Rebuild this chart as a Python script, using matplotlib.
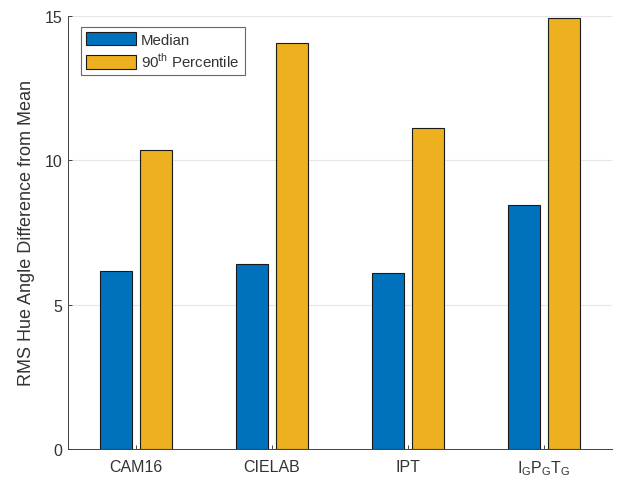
import numpy as np
import matplotlib.pyplot as plt

plt.rcParams['font.family'] = ['Liberation Sans', 'DejaVu Sans']

# data
categories = ['CAM16', 'CIELAB', 'IPT', r'I$_\mathregular{G}$P$_\mathregular{G}$T$_\mathregular{G}$']
median = [6.17, 6.42, 6.1, 8.45]
pct90 = [10.35, 14.05, 11.12, 14.93]

blue = '#0072BD'
yellow = '#EDB120'


def main():
    fig = plt.figure(figsize=(6.27, 4.85), dpi=100)
    ax = fig.add_axes([0.1085, 0.0722, 0.8676, 0.8928])

    x = np.arange(1, len(categories) + 1)
    w = 0.235
    ax.bar(x - 0.145, median, w, color=blue, edgecolor='#1a1a1a', linewidth=0.8,
           label='Median', zorder=3)
    ax.bar(x + 0.145, pct90, w, color=yellow, edgecolor='#1a1a1a', linewidth=0.8,
           label=r'90$^\mathregular{th}$ Percentile', zorder=3)

    ax.set_xlim(0.5, 4.5)
    ax.set_ylim(0, 15)
    ax.set_xticks(x)
    ax.set_xticklabels(categories)
    ax.set_yticks([0, 5, 10, 15])
    ax.tick_params(direction='in', length=3, colors='#262626', labelsize=11.5,
                   width=0.6)
    ax.tick_params(axis='y', pad=4)
    ax.tick_params(axis='x', pad=7)
    for lab in ax.get_xticklabels() + ax.get_yticklabels():
        lab.set_color('#333333')
    ax.yaxis.grid(True, color='#e6e6e6', linewidth=0.8, zorder=0)

    for s in ['top', 'right']:
        ax.spines[s].set_visible(False)
    for s in ['left', 'bottom']:
        ax.spines[s].set_color('#404040')
        ax.spines[s].set_linewidth(0.7)

    ax.set_ylabel('RMS Hue Angle Difference from Mean', fontsize=13, color='#333333')
    ax.yaxis.set_label_coords(-33 / 544 - 0.0, 0.5)

    leg = ax.legend(loc='upper left', bbox_to_anchor=(0.024, 0.975), borderaxespad=0,
                    fontsize=10.8, fancybox=False, edgecolor='#404040',
                    handlelength=3.3, handleheight=1.0, handletextpad=0.35,
                    borderpad=0.35, labelspacing=0.3)
    leg.get_frame().set_linewidth(0.8)
    for t in leg.get_texts():
        t.set_color('#333333')

    fig.savefig('out.png', dpi=100)


if __name__ == "__main__":
    main()
